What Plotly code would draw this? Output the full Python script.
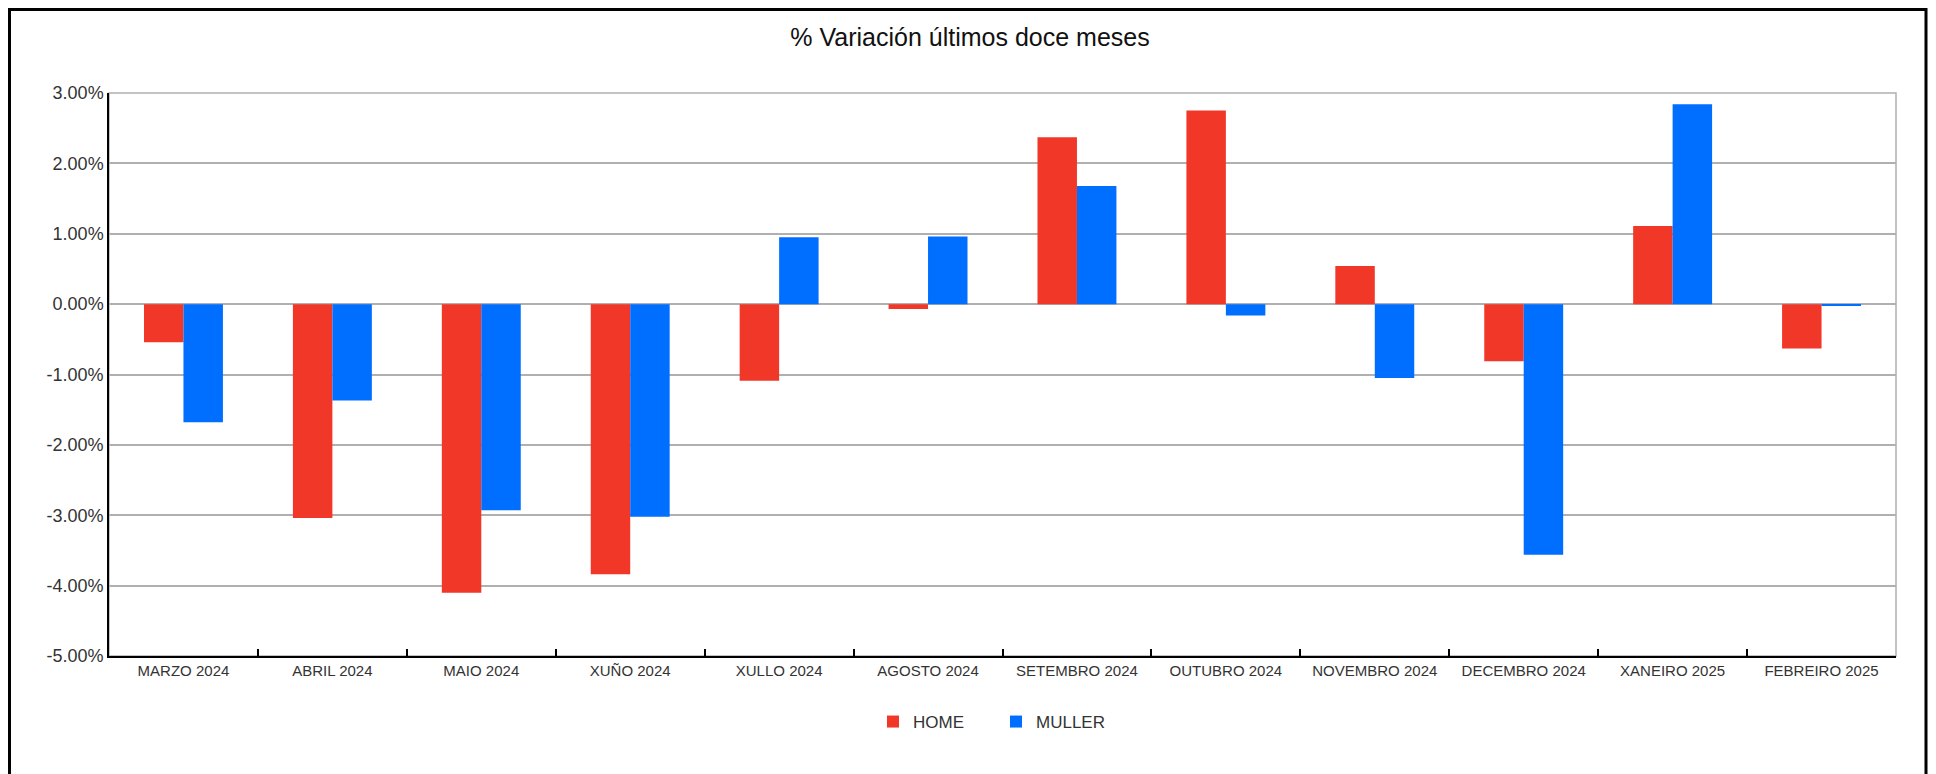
import plotly.graph_objects as go

categories = ["MARZO 2024", "ABRIL 2024", "MAIO 2024", "XUÑO 2024", "XULLO 2024", "AGOSTO 2024",
              "SETEMBRO 2024", "OUTUBRO 2024", "NOVEMBRO 2024", "DECEMBRO 2024", "XANEIRO 2025", "FEBREIRO 2025"]
home = [-0.54, -3.04, -4.10, -3.84, -1.09, -0.07, 2.37, 2.75, 0.54, -0.81, 1.11, -0.63]
muller = [-1.68, -1.37, -2.93, -3.02, 0.95, 0.96, 1.68, -0.16, -1.05, -3.56, 2.84, -0.02]
y_ticks = [-5, -4, -3, -2, -1, 0, 1, 2, 3]
y_tick_labels = [f"{v:.2f}%" for v in y_ticks]

W, H = 1936, 774
OFF = 8  # page body margin
L, R, T, B = 109 - OFF, 1896 - OFF, 93 - OFF, 656 - OFF
FONT = "Liberation Sans, Arial, sans-serif"
TXT = "#333333"

fig = go.Figure()
fig.add_trace(go.Bar(name="HOME", x=categories, y=home, marker=dict(color="#F03728", line=dict(width=0))))
fig.add_trace(go.Bar(name="MULLER", x=categories, y=muller, marker=dict(color="#006EFF", line=dict(width=0))))

pw, ph = R - L, B - T
def px_x(v):
    return (v - L) / pw
def px_y(v):
    return (B - v) / ph

fig.update_layout(
    width=W, height=H,
    margin=dict(l=L, r=W - R, t=T, b=H - B),
    paper_bgcolor="white", plot_bgcolor="white",
    font=dict(family=FONT, color=TXT),
    barmode="group", bargap=0.47, bargroupgap=0,
    title=dict(text="% Variación últimos doce meses", x=962 / W, xanchor="center",
               y=1 - 29 / H, yanchor="middle", font=dict(size=25, color="#111111", family=FONT)),
    showlegend=True,
    legend=dict(orientation="h", x=px_x(994 - OFF + 2), xanchor="center", y=px_y(722 - OFF), yanchor="middle",
                font=dict(size=17, color=TXT, family=FONT), traceorder="normal",
                entrywidth=78, entrywidthmode="pixels"),
    xaxis=dict(type="category", showgrid=False, showline=True, linecolor="black", linewidth=2,
               ticks="inside", ticklen=7, tickcolor="black", tickwidth=1.5, tickson="boundaries",
               tickfont=dict(size=15, color=TXT, family=FONT)),
    yaxis=dict(range=[-5, 3], tickvals=y_ticks, ticktext=y_tick_labels,
               showgrid=True, gridcolor="#b0b0b0", gridwidth=1.5, zeroline=False,
               showline=True, linecolor="black", linewidth=1.5, ticks="",
               tickfont=dict(size=18, color=TXT, family=FONT)),
)

# gray plot-area frame (top & right)
fig.add_shape(type="rect", xref="paper", yref="paper", x0=0, x1=1, y0=0, y1=1,
              line=dict(color="#b0b0b0", width=1.5), layer="below")
# outer black border
ox0, ox1, oy1, oy0 = px_x(1.5), px_x(1918), px_y(1.5), px_y(800)
fig.add_shape(type="rect", xref="paper", yref="paper", x0=ox0, x1=ox1, y0=oy0, y1=oy1,
              line=dict(color="black", width=3))

fig.write_html("out.html")
